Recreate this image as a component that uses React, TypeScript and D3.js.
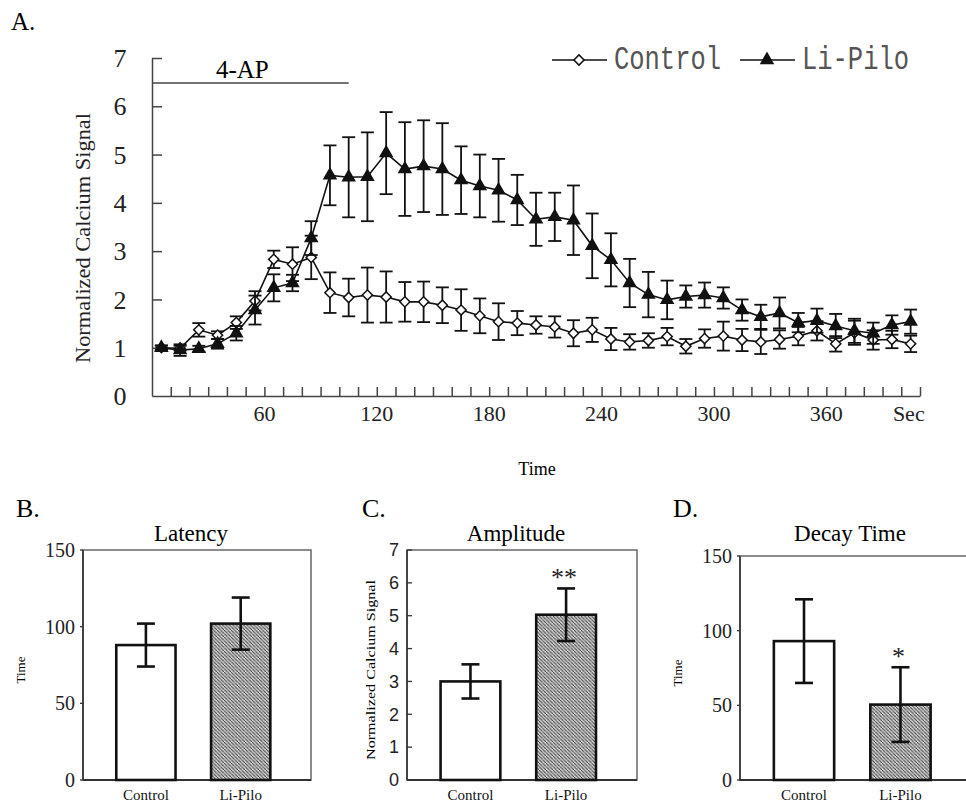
import React, { useEffect, useRef } from 'react';
import * as d3 from 'd3';

// time course (panel A), one point every 10 s
const times = [5, 15, 25, 35, 45, 55, 65, 75, 85, 95, 105, 115, 125, 135, 145, 155, 165, 175, 185, 195,
  205, 215, 225, 235, 245, 255, 265, 275, 285, 295, 305, 315, 325, 335, 345, 355, 365, 375, 385, 395, 405];

const controlMean = [1.00, 0.99, 1.37, 1.26, 1.52, 1.97, 2.83, 2.73, 2.87, 2.14, 2.04, 2.09, 2.05, 1.95, 1.95,
  1.88, 1.78, 1.66, 1.54, 1.51, 1.47, 1.43, 1.30, 1.37, 1.18, 1.12, 1.15, 1.23, 1.03, 1.19, 1.24, 1.16, 1.12,
  1.17, 1.24, 1.35, 1.08, 1.31, 1.16, 1.17, 1.08];
const controlErr = [0.04, 0.05, 0.14, 0.08, 0.13, 0.2, 0.18, 0.35, 0.45, 0.42, 0.39, 0.57, 0.53, 0.41, 0.42,
  0.37, 0.43, 0.36, 0.38, 0.25, 0.18, 0.22, 0.27, 0.25, 0.23, 0.16, 0.15, 0.18, 0.15, 0.19, 0.3, 0.23, 0.25,
  0.19, 0.19, 0.2, 0.16, 0.25, 0.2, 0.18, 0.17];

const liPiloMean = [1.00, 0.95, 0.98, 1.08, 1.30, 1.78, 2.24, 2.34, 3.27, 4.57, 4.53, 4.54, 5.03, 4.70, 4.76,
  4.70, 4.47, 4.35, 4.26, 4.06, 3.66, 3.71, 3.64, 3.11, 2.82, 2.34, 2.10, 1.99, 2.06, 2.09, 2.03, 1.78, 1.64,
  1.72, 1.52, 1.56, 1.45, 1.35, 1.30, 1.47, 1.54];
const liPiloErr = [0.05, 0.12, 0.06, 0.1, 0.15, 0.3, 0.28, 0.17, 0.35, 0.62, 0.83, 0.92, 0.85, 0.97, 0.95,
  0.95, 0.7, 0.65, 0.65, 0.52, 0.55, 0.5, 0.72, 0.67, 0.55, 0.5, 0.47, 0.4, 0.23, 0.26, 0.22, 0.22, 0.25,
  0.32, 0.2, 0.25, 0.25, 0.25, 0.22, 0.2, 0.25];

const yTicksA = [0, 1, 2, 3, 4, 5, 6, 7];
const xTickLabelsA = [60, 120, 180, 240, 300, 360];
const drugWindow = [0, 105];

// summary bars (panels B-D)
const groups = ['Control', 'Li-Pilo'];
const latencyMean = [88, 102];
const latencyErr = [14, 17];
const amplitudeMean = [3.0, 5.03];
const amplitudeErr = [0.52, 0.8];
const decayMean = [93, 50.5];
const decayErr = [28, 25];
const amplitudeStars = ['', '**'];
const decayStars = ['', '*'];

const serif = '"Liberation Serif", "Times New Roman", serif';
const sans = '"Liberation Sans", Arial, sans-serif';
const mono = '"Liberation Mono", "DejaVu Sans Mono", monospace';

const App = () => {
  const ref = useRef<SVGSVGElement>(null);

  useEffect(() => {
    const svg = d3.select(ref.current);
    svg.selectAll('*').remove();

    const defs = svg.append('defs');
    const pat = defs.append('pattern')
      .attr('id', 'hatch')
      .attr('patternUnits', 'userSpaceOnUse')
      .attr('width', 3.5)
      .attr('height', 3.5);
    pat.append('rect').attr('width', 3.5).attr('height', 3.5).attr('fill', '#d2d2d2');
    pat.append('path')
      .attr('d', 'M-1,-1 L1,1 M0,0 L3.5,3.5 M2.5,2.5 L4.5,4.5')
      .attr('stroke', '#3a3a3a')
      .attr('stroke-width', 1);

    // ---------- panel A ----------
    const x = d3.scaleLinear().domain([0, 410]).range([152, 920]);
    const y = d3.scaleLinear().domain([0, 7]).range([396, 58]);

    svg.append('text').attr('x', 11).attr('y', 30)
      .attr('font-family', serif).attr('font-size', 25).text('A.');

    const gx = svg.append('g').attr('transform', 'translate(0,396)')
      .call(d3.axisBottom(x).tickValues(d3.range(10, 411, 10)).tickSizeInner(-9).tickSizeOuter(0).tickFormat(() => ''));
    const gy = svg.append('g').attr('transform', 'translate(152,0)')
      .call(d3.axisLeft(y).tickValues(yTicksA.slice(1)).tickSizeInner(-10).tickSizeOuter(0).tickFormat(() => ''));
    [gx, gy].forEach(g => {
      g.selectAll('path, line').attr('stroke', '#444').attr('stroke-width', 1.5);
    });

    svg.append('g').selectAll('text').data(yTicksA).enter().append('text')
      .attr('x', 120).attr('y', d => y(d)).attr('dy', '0.35em')
      .attr('text-anchor', 'middle').attr('font-family', serif).attr('font-size', 26)
      .attr('fill', '#222').text(d => d);

    svg.append('g').selectAll('text').data(xTickLabelsA).enter().append('text')
      .attr('x', d => x(d)).attr('y', 421)
      .attr('text-anchor', 'middle').attr('font-family', serif).attr('font-size', 22)
      .attr('fill', '#222').text(d => d);
    svg.append('text').attr('x', x(404)).attr('y', 421).attr('text-anchor', 'middle')
      .attr('font-family', serif).attr('font-size', 22).attr('fill', '#222').text('Sec');

    svg.append('text').attr('x', 537).attr('y', 475).attr('text-anchor', 'middle')
      .attr('font-family', serif).attr('font-size', 18).text('Time');
    svg.append('text')
      .attr('transform', 'translate(90,238) rotate(-90)')
      .attr('text-anchor', 'middle').attr('font-family', serif).attr('font-size', 21)
      .attr('textLength', 250).attr('lengthAdjust', 'spacingAndGlyphs')
      .attr('fill', '#222').text('Normalized Calcium Signal');

    // 4-AP application bar
    svg.append('line')
      .attr('x1', x(drugWindow[0])).attr('x2', x(drugWindow[1]))
      .attr('y1', 83).attr('y2', 83).attr('stroke', '#444').attr('stroke-width', 1.3);
    svg.append('text').attr('x', x((drugWindow[0] + drugWindow[1]) / 2) - 8).attr('y', 78)
      .attr('text-anchor', 'middle').attr('font-family', serif).attr('font-size', 25).text('4-AP');

    const series = [
      { name: 'Control', mean: controlMean, err: controlErr, marker: 'diamond' },
      { name: 'Li-Pilo', mean: liPiloMean, err: liPiloErr, marker: 'triangle' },
    ];
    const diamond = d3.symbol(d3.symbolSquare, 52)();
    const triangle = d3.symbol(d3.symbolTriangle, 62)();
    const line = d3.line<number>().x((_, i) => x(times[i])).y(d => y(d));

    series.forEach(s => {
      const g = svg.append('g');
      const eb = g.selectAll('g.eb').data(s.mean).enter().append('g')
        .attr('stroke', '#111').attr('stroke-width', 1.8);
      eb.append('line')
        .attr('x1', (_, i) => x(times[i])).attr('x2', (_, i) => x(times[i]))
        .attr('y1', (d, i) => y(d + s.err[i])).attr('y2', (d, i) => y(d - s.err[i]));
      [1, -1].forEach(sign => {
        eb.append('line')
          .attr('x1', (_, i) => x(times[i]) - 6.5).attr('x2', (_, i) => x(times[i]) + 6.5)
          .attr('y1', (d, i) => y(d + sign * s.err[i])).attr('y2', (d, i) => y(d + sign * s.err[i]));
      });
      g.append('path').datum(s.mean).attr('d', line)
        .attr('fill', 'none').attr('stroke', '#111').attr('stroke-width', 1.6);
      g.selectAll('path.m').data(s.mean).enter().append('path')
        .attr('d', s.marker === 'diamond' ? diamond : triangle)
        .attr('transform', (d, i) => `translate(${x(times[i])},${y(d)})${s.marker === 'diamond' ? ' rotate(45)' : ''}`)
        .attr('fill', s.marker === 'diamond' ? '#fff' : '#111')
        .attr('stroke', '#111').attr('stroke-width', 1.5);
    });

    // legend
    const legendItems = [
      { name: 'Control', x0: 552, marker: 'diamond' },
      { name: 'Li-Pilo', x0: 740, marker: 'triangle' },
    ];
    legendItems.forEach(it => {
      svg.append('line').attr('x1', it.x0).attr('x2', it.x0 + 55).attr('y1', 60).attr('y2', 60)
        .attr('stroke', '#111').attr('stroke-width', 1.6);
      svg.append('path').attr('d', it.marker === 'diamond' ? diamond : triangle)
        .attr('transform', `translate(${it.x0 + 27},60)${it.marker === 'diamond' ? ' rotate(45)' : ''}`)
        .attr('fill', it.marker === 'diamond' ? '#fff' : '#111')
        .attr('stroke', '#111').attr('stroke-width', 1.5);
      svg.append('text')
        .attr('transform', `translate(${it.x0 + 62},69) scale(1,1.28)`)
        .attr('font-family', mono).attr('font-size', 25.5).attr('fill', '#555')
        .text(it.name);
    });

    // ---------- panels B-D ----------
    const panels = [
      { tag: 'B.', tagX: 16, title: 'Latency', left: 83, right: 311, top: 550, max: 150, ticks: [0, 50, 100, 150],
        mean: latencyMean, err: latencyErr, stars: ['', ''], yTitle: 'Time', yTitleX: 20, yTitleLen: 0, tickFont: serif,
        tickFs: 20, tickIn: false },
      { tag: 'C.', tagX: 362, title: 'Amplitude', left: 407, right: 637, top: 550, max: 7, ticks: [0, 1, 2, 3, 4, 5, 6, 7],
        mean: amplitudeMean, err: amplitudeErr, stars: amplitudeStars, yTitle: 'Normalized Calcium Signal', yTitleX: 370,
        yTitleLen: 180, tickFont: sans, tickFs: 18, tickIn: true },
      { tag: 'D.', tagX: 673, title: 'Decay Time', left: 740, right: 972, top: 556, max: 150, ticks: [0, 50, 100, 150],
        mean: decayMean, err: decayErr, stars: decayStars, yTitle: 'Time', yTitleX: 677, yTitleLen: 0, tickFont: serif,
        tickFs: 20, tickIn: false },
    ];
    const bottom = 780;

    panels.forEach(p => {
      const g = svg.append('g');
      const bx = d3.scaleBand().domain(groups).range([p.left, p.right]).paddingInner(0.375).paddingOuter(0.39).align(0.45);
      const by = d3.scaleLinear().domain([0, p.max]).range([bottom, p.top]);

      g.append('text').attr('x', p.tagX).attr('y', 517)
        .attr('font-family', serif).attr('font-size', 26).text(p.tag);
      g.append('text').attr('x', (p.left + p.right) / 2 - 6).attr('y', 541)
        .attr('text-anchor', 'middle').attr('font-family', serif).attr('font-size', 23).text(p.title);

      g.append('rect').attr('x', p.left).attr('y', p.top)
        .attr('width', p.right - p.left).attr('height', bottom - p.top)
        .attr('fill', 'none').attr('stroke', '#666').attr('stroke-width', 1.5);
      g.append('line').attr('x1', p.left).attr('x2', p.right).attr('y1', bottom).attr('y2', bottom)
        .attr('stroke', '#333').attr('stroke-width', 1.8);
      g.append('line').attr('x1', p.left).attr('x2', p.left).attr('y1', p.top).attr('y2', bottom)
        .attr('stroke', '#333').attr('stroke-width', 1.6);

      g.selectAll('line.t').data(p.ticks).enter().append('line')
        .attr('x1', p.left).attr('x2', p.tickIn ? p.left + 5 : p.left - 3)
        .attr('y1', d => by(d)).attr('y2', d => by(d))
        .attr('stroke', '#333').attr('stroke-width', 1.3);
      g.selectAll('text.t').data(p.ticks).enter().append('text')
        .attr('x', p.left - 8).attr('y', d => by(d)).attr('dy', '0.35em')
        .attr('text-anchor', 'end').attr('font-family', p.tickFont).attr('font-size', p.tickFs)
        .attr('fill', '#222').text(d => d);

      const yt = g.append('text')
        .attr('transform', `translate(${p.yTitleX},${(p.top + bottom) / 2 + 5}) rotate(-90)`)
        .attr('text-anchor', 'middle').attr('dy', '0.35em')
        .attr('font-family', serif).attr('font-size', 13).text(p.yTitle);
      if (p.yTitleLen) yt.attr('textLength', p.yTitleLen).attr('lengthAdjust', 'spacingAndGlyphs');

      groups.forEach((name, i) => {
        const bw = bx.bandwidth();
        const cx = (bx(name) as number) + bw / 2;
        g.append('rect').attr('x', bx(name) as number).attr('y', by(p.mean[i]))
          .attr('width', bw).attr('height', bottom - by(p.mean[i]))
          .attr('fill', i === 0 ? '#fff' : 'url(#hatch)')
          .attr('stroke', '#111').attr('stroke-width', 2.6);
        const hi = by(p.mean[i] + p.err[i]);
        const lo = by(p.mean[i] - p.err[i]);
        g.append('line').attr('x1', cx).attr('x2', cx).attr('y1', hi).attr('y2', lo)
          .attr('stroke', '#111').attr('stroke-width', 2.6);
        [hi, lo].forEach(yy => {
          g.append('line').attr('x1', cx - 9).attr('x2', cx + 9).attr('y1', yy).attr('y2', yy)
            .attr('stroke', '#111').attr('stroke-width', 2.6);
        });
        if (p.stars[i]) {
          g.append('text').attr('x', cx - 2).attr('y', hi - 2).attr('text-anchor', 'middle')
            .attr('font-family', serif).attr('font-size', 26).attr('fill', '#222').text(p.stars[i]);
        }
        g.append('text').attr('x', cx).attr('y', 800).attr('text-anchor', 'middle')
          .attr('font-family', serif).attr('font-size', 15).attr('fill', '#111').text(name);
      });
    });
  }, []);

  return (
    <svg ref={ref} width={966} height={803}
      style={{ position: 'absolute', left: 0, top: 0, background: '#fff', display: 'block' }} />
  );
};

export default App;
